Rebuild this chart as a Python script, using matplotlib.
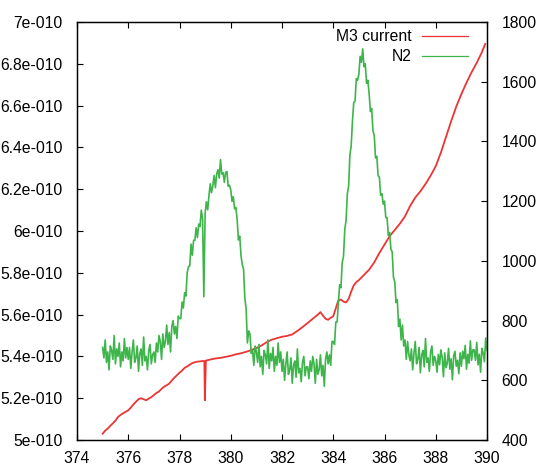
import numpy as np
import matplotlib
matplotlib.use("Agg")
import matplotlib.pyplot as plt

plt.rcParams['font.family'] = ['Liberation Sans', 'DejaVu Sans']
plt.rcParams['font.size'] = 11.3

# M3 current (left axis, in units of 1e-10)
m3_x = [375.0, 375.1, 375.2, 375.3, 375.4, 375.5, 375.6, 375.7, 375.8, 375.9,
        376.0, 376.1, 376.2, 376.3, 376.4, 376.5, 376.6, 376.7, 376.8, 376.9,
        377.0, 377.1, 377.2, 377.3, 377.4, 377.5, 377.6, 377.7, 377.8, 377.9,
        378.0, 378.1, 378.2, 378.3, 378.4, 378.5, 378.6, 378.7, 378.8, 378.9,
        378.97, 378.99, 379.03, 379.1, 379.2, 379.4, 379.6, 379.8,
        380.0, 380.2, 380.4, 380.6, 380.8, 381.0, 381.2, 381.4, 381.6, 381.8,
        382.0, 382.2, 382.4, 382.6, 382.8, 383.0, 383.2, 383.4, 383.5, 383.6,
        383.7, 383.8, 383.9, 384.0, 384.1, 384.2, 384.3, 384.4, 384.5, 384.6,
        384.7, 384.8, 384.9, 385.0, 385.2, 385.4, 385.6, 385.8, 386.0, 386.2,
        386.4, 386.6, 386.8, 387.0, 387.2, 387.4, 387.6, 387.8, 388.0, 388.2,
        388.4, 388.6, 388.8, 389.0, 389.2, 389.4, 389.6, 389.8, 389.93]
m3_val = [5.030, 5.045, 5.055, 5.068, 5.080, 5.092, 5.110, 5.120, 5.128, 5.135,
          5.142, 5.155, 5.170, 5.183, 5.195, 5.200, 5.195, 5.190, 5.198, 5.205,
          5.215, 5.225, 5.232, 5.245, 5.255, 5.262, 5.270, 5.285, 5.298, 5.310,
          5.322, 5.332, 5.345, 5.352, 5.360, 5.368, 5.372, 5.375, 5.376, 5.378,
          5.378, 5.190, 5.380, 5.382, 5.385, 5.390, 5.393, 5.398,
          5.403, 5.410, 5.415, 5.422, 5.430, 5.440, 5.452, 5.468, 5.480, 5.487,
          5.494, 5.498, 5.505, 5.522, 5.540, 5.560, 5.580, 5.600, 5.612, 5.595,
          5.580, 5.575, 5.585, 5.592, 5.630, 5.668, 5.672, 5.662, 5.658, 5.675,
          5.710, 5.740, 5.755, 5.765, 5.790, 5.815, 5.850, 5.895, 5.935, 5.975,
          6.005, 6.035, 6.070, 6.120, 6.160, 6.190, 6.225, 6.265, 6.310, 6.375,
          6.450, 6.525, 6.595, 6.655, 6.710, 6.760, 6.805, 6.855, 6.895]

# N2 signal (right axis), one value every 0.05 from 375 to 390
n2_x = np.round(np.arange(375.0, 390.001, 0.05), 2)
n2_val = [
    710, 675, 735, 660, 695, 635, 715, 700, 670, 750, 655, 705, 680, 725, 645, 695, 665, 740, 675, 710,
    670, 710, 640, 695, 735, 660, 675, 715, 630, 690, 705, 650, 745, 665, 680, 635, 700, 720, 655, 685,
    695, 660, 725, 695, 750, 730, 670, 755, 710, 730, 785, 720, 760, 695, 780, 800, 755, 780, 740, 815,
    807, 806, 862, 842, 893, 882, 960, 981, 983, 1056, 1019, 1069, 1069, 1111, 1078, 1123, 1115, 1170, 1141, 880,
    1159, 1198, 1171, 1219, 1258, 1228, 1252, 1286, 1245, 1291, 1305, 1277, 1339, 1291, 1295, 1263, 1297, 1299, 1250, 1253,
    1238, 1199, 1215, 1174, 1179, 1139, 1070, 1083, 1018, 987, 972, 875, 840, 725, 765, 755, 690, 700, 650, 715,
    695, 660, 720, 645, 680, 620, 700, 685, 655, 735, 640, 690, 665, 710, 630, 680, 650, 725, 660, 695,
    630, 670, 600, 655, 695, 620, 635, 675, 590, 650, 665, 610, 705, 625, 640, 595, 660, 680, 615, 645,
    645, 605, 665, 630, 680, 655, 590, 670, 620, 635, 685, 615, 650, 580, 670, 695, 655, 685, 650, 730,
    730, 720, 795, 795, 855, 920, 910, 995, 1015, 1105, 1135, 1225, 1250, 1355, 1385, 1470, 1530, 1535, 1610, 1605,
    1625, 1685, 1665, 1710, 1650, 1660, 1595, 1605, 1560, 1500, 1510, 1435, 1420, 1345, 1350, 1285, 1280, 1220, 1225, 1190,
    1200, 1145, 1145, 1085, 1095, 1040, 1030, 945, 930, 860, 870, 780, 805, 735, 785, 715, 735, 670, 730, 685,
    665, 705, 635, 690, 730, 655, 670, 710, 625, 685, 700, 645, 740, 660, 675, 630, 695, 715, 650, 680,
    667, 627, 687, 652, 702, 677, 612, 692, 642, 657, 707, 637, 672, 602, 682, 697, 647, 667, 622, 692,
    647, 697, 672, 717, 637, 687, 657, 732, 667, 702, 702, 667, 727, 652, 687, 627, 707, 692, 662, 742,
    700]

x_ticks = [374, 376, 378, 380, 382, 384, 386, 388, 390]
left_ticks = [5.0, 5.2, 5.4, 5.6, 5.8, 6.0, 6.2, 6.4, 6.6, 6.8, 7.0]
left_labels = ["5e-010", "5.2e-010", "5.4e-010", "5.6e-010", "5.8e-010", "6e-010",
               "6.2e-010", "6.4e-010", "6.6e-010", "6.8e-010", "7e-010"]
right_ticks = [400, 600, 800, 1000, 1200, 1400, 1600, 1800]

red = "#ec3434"
green = "#3db54a"

fig = plt.figure(figsize=(5.4, 4.69), dpi=100)
ax = fig.add_axes([77 / 540, 1 - 440 / 469, 410 / 540, 418 / 469])
ax2 = ax.twinx()

ax.plot(m3_x, m3_val, color=red, lw=1.3, label="M3 current")
ax2.plot(n2_x, n2_val, color=green, lw=1.2, label="N2")

ax.set_xlim(374, 390)
ax.set_ylim(5.0, 7.0)
ax2.set_ylim(400, 1800)

ax.set_xticks(x_ticks)
ax.set_yticks(left_ticks)
ax.set_yticklabels(left_labels)
ax2.set_yticks(right_ticks)

ax.tick_params(axis='x', direction='in', length=4, width=0.8, top=True, pad=8)
ax.tick_params(axis='y', direction='in', length=4, width=0.8, right=False, pad=10.5)
ax2.tick_params(axis='y', direction='in', length=4, width=0.8, pad=10.5)

for a in (ax, ax2):
    for s in a.spines.values():
        s.set_linewidth(0.9)

# legend, text first then line sample
h1, l1 = ax.get_legend_handles_labels()
h2, l2 = ax2.get_legend_handles_labels()
leg = fig.legend(h1 + h2, l1 + l2, loc='upper right', bbox_to_anchor=(468 / 540, 1 - 29 / 469),
                 frameon=False, markerfirst=False, handlelength=2.9, handletextpad=0.7,
                 labelspacing=0.32, borderaxespad=0, borderpad=0)
for line in leg.get_lines():
    line.set_linewidth(0.9)

fig.savefig("out.png", dpi=100)
